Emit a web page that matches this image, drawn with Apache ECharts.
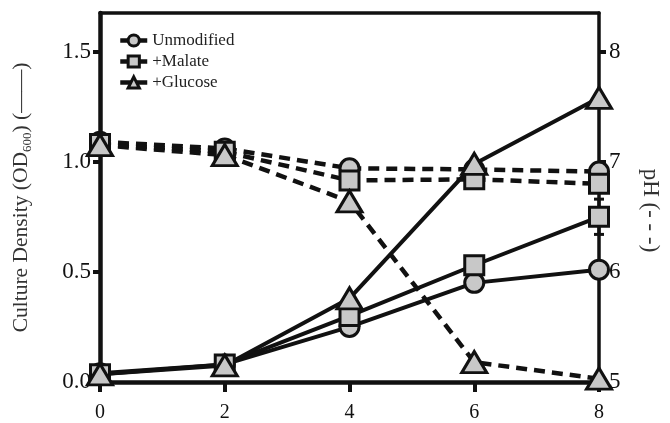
<!DOCTYPE html>
<html>
<head>
<meta charset="utf-8">
<script src="https://cdn.jsdelivr.net/npm/echarts@6/dist/echarts.min.js"></script>
<style>html,body{margin:0;padding:0;background:#fff;}#c{width:670px;height:423px;}</style>
</head>
<body>
<div id="c"></div>
<script>
// ---- data ----
var timeH = [0, 2, 4, 6, 8];
var seriesNames = ['Unmodified', '+Malate', '+Glucose'];
var odUnmod   = [0.04, 0.08, 0.25, 0.45, 0.51];
var odMalate  = [0.035, 0.08, 0.30, 0.53, 0.75];
var odGlucose = [0.035, 0.075, 0.38, 0.99, 1.29];
var phUnmod   = [7.18, 7.12, 6.94, 6.93, 6.91];
var phMalate  = [7.16, 7.09, 6.83, 6.84, 6.80];
var phGlucose = [7.15, 7.06, 6.64, 5.18, 5.03];
var errMalateOD = [[8, 0.67, 0.83]];
var xTicks = [0, 2, 4, 6, 8];
var odTicks = [0, 0.5, 1.0, 1.5];
var phTicks = [5, 6, 7, 8];

var FONT = "'Liberation Serif', 'Times New Roman', serif";
var FILL = '#c8c8c8';
var INK = '#111';

function pairs(xs, ys) { return xs.map(function (x, i) { return [x, ys[i]]; }); }

var symbols = {
  'Unmodified': { symbol: 'circle', size: 19 },
  '+Malate': { symbol: 'rect', size: 19 },
  '+Glucose': { symbol: 'triangle', size: [25, 21] }
};

function solid(name, vals) {
  return {
    name: name, type: 'line', xAxisIndex: 0, yAxisIndex: 0,
    data: pairs(timeH, vals),
    symbol: symbols[name].symbol, symbolSize: symbols[name].size,
    lineStyle: { color: INK, width: 4 },
    itemStyle: { color: FILL, borderColor: INK, borderWidth: 3 },
    z: 3, animation: false
  };
}
function dashed(name, vals) {
  return {
    name: name, type: 'line', xAxisIndex: 0, yAxisIndex: 1,
    data: pairs(timeH, vals),
    symbol: symbols[name].symbol, symbolSize: symbols[name].size,
    lineStyle: { color: INK, width: 4.5, type: [11, 7] },
    itemStyle: { color: FILL, borderColor: INK, borderWidth: 3 },
    z: 3, animation: false
  };
}

var chart = echarts.init(document.getElementById('c'), null, { renderer: 'canvas' });
chart.setOption({
  animation: false,
  backgroundColor: '#fff',
  grid: { left: 100, right: 70, top: 13, bottom: 41, containLabel: false },
  legend: {
    data: seriesNames,
    orient: 'vertical', left: 113, top: 27,
    itemWidth: 27, itemHeight: 14, itemGap: 4,
    lineStyle: { color: INK, width: 4.5, type: 'solid' },
    itemStyle: { color: FILL, borderColor: INK, borderWidth: 3 },
    textStyle: { fontFamily: FONT, fontSize: 17, color: '#222' }
  },
  xAxis: [{
    type: 'value', min: 0, max: 8, interval: 2, position: 'bottom',
    axisLine: { show: true, onZero: false, lineStyle: { color: INK, width: 4.5 } },
    axisTick: { show: true, length: 10, lineStyle: { color: INK, width: 4 }, customValues: xTicks },
    axisLabel: { color: '#111', fontFamily: FONT, fontSize: 20, margin: 21, customValues: xTicks },
    splitLine: { show: false }
  }, {
    type: 'value', min: 0, max: 8, position: 'top',
    axisLine: { show: true, onZero: false, lineStyle: { color: INK, width: 3.5 } },
    axisTick: { show: false }, axisLabel: { show: false }, splitLine: { show: false }
  }],
  yAxis: [{
    type: 'value', min: 0, max: 1.675, position: 'left',
    axisLine: { show: true, onZero: false, lineStyle: { color: INK, width: 4.5 } },
    axisTick: { show: true, length: 7, lineStyle: { color: INK, width: 4 }, customValues: odTicks },
    axisLabel: { color: '#111', fontFamily: FONT, fontSize: 23, margin: 9, customValues: odTicks,
      formatter: function (v) { return v.toFixed(1); } },
    splitLine: { show: false },
    name: '{a|Culture Density (OD}{s|600}{a|) (——)}',
    nameLocation: 'middle', nameGap: 66, nameRotate: 90,
    nameTextStyle: {
      rich: {
        a: { fontFamily: FONT, fontSize: 21.5, color: '#333', lineHeight: 26, verticalAlign: 'middle' },
        s: { fontFamily: FONT, fontSize: 13, color: '#333', lineHeight: 26, verticalAlign: 'bottom', padding: [10, 0, 0, 0] }
      }
    }
  }, {
    type: 'value', min: 5, max: 8.35, position: 'right',
    axisLine: { show: true, onZero: false, lineStyle: { color: INK, width: 3.5 } },
    axisTick: { show: true, length: 7, lineStyle: { color: INK, width: 4 }, customValues: phTicks },
    axisLabel: { color: '#111', fontFamily: FONT, fontSize: 23, margin: 10, customValues: phTicks },
    splitLine: { show: false },
    name: 'pH (- - -)', nameLocation: 'middle', nameGap: 40, nameRotate: -90,
    nameTextStyle: { fontFamily: FONT, fontSize: 23, color: '#333', padding: [0, 0, 0, 26] }
  }],
  series: [
    {
      type: 'custom', xAxisIndex: 0, yAxisIndex: 0, data: errMalateOD, z: 2, silent: true,
      renderItem: function (params, api) {
        var lo = api.coord([api.value(0), api.value(1)]);
        var hi = api.coord([api.value(0), api.value(2)]);
        var w = 5;
        var st = { stroke: INK, lineWidth: 3 };
        return { type: 'group', children: [
          { type: 'line', shape: { x1: lo[0], y1: lo[1], x2: hi[0], y2: hi[1] }, style: st },
          { type: 'line', shape: { x1: lo[0] - w, y1: lo[1], x2: lo[0] + w, y2: lo[1] }, style: st },
          { type: 'line', shape: { x1: hi[0] - w, y1: hi[1], x2: hi[0] + w, y2: hi[1] }, style: st }
        ] };
      }
    },
    dashed('Unmodified', phUnmod),
    dashed('+Malate', phMalate),
    dashed('+Glucose', phGlucose),
    solid('Unmodified', odUnmod),
    solid('+Malate', odMalate),
    solid('+Glucose', odGlucose)
  ]
});
</script>
</body>
</html>
